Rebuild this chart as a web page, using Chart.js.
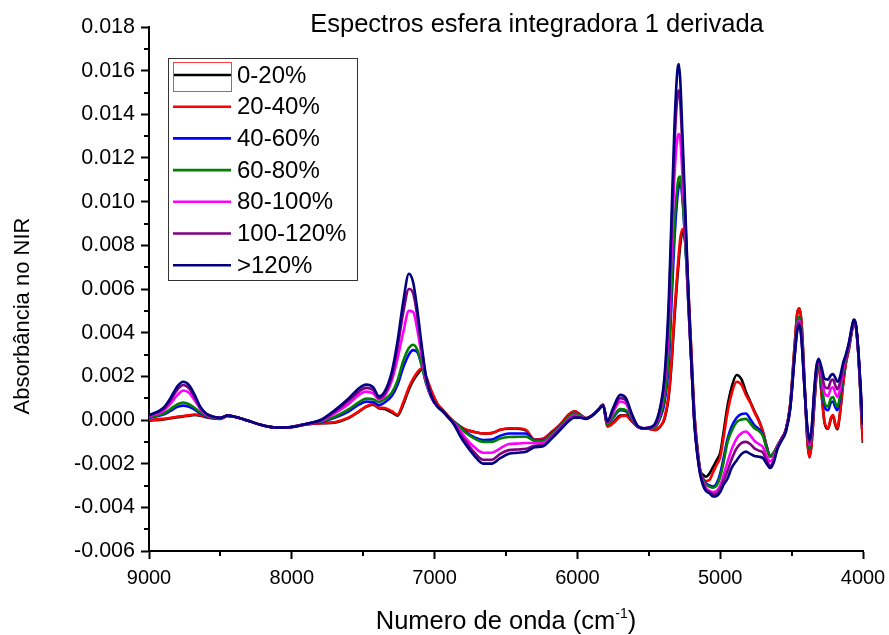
<!DOCTYPE html>
<html>
<head>
<meta charset="utf-8">
<script src="https://cdn.jsdelivr.net/npm/chart.js@4.4.1/dist/chart.umd.min.js"></script>
<style>
  html, body { margin: 0; padding: 0; background: #fff; }
  #wrap { width: 889px; height: 635px; }
</style>
</head>
<body>
<div id="wrap"><canvas id="chart" width="889" height="635"></canvas></div>
<script>
// Wavenumbers (cm-1)
const wavenumbers = [
  9000, 8900, 8850, 8800, 8760, 8720, 8680, 8640, 8600, 8550, 8500, 8450, 8400,
  8300, 8200, 8100, 8000, 7900, 7800, 7700, 7600, 7530, 7480, 7430, 7390, 7350,
  7300, 7260, 7220, 7180, 7150, 7120, 7090, 7060, 7020, 6980, 6940, 6900, 6860,
  6820, 6780, 6720, 6660, 6600, 6540, 6480, 6420, 6360, 6300, 6240, 6180, 6120,
  6060, 6020, 5980, 5940, 5900, 5860, 5820, 5790, 5750, 5700, 5660, 5620, 5580,
  5540, 5500, 5460, 5420, 5390, 5360, 5340, 5320, 5300, 5290, 5280, 5265, 5250,
  5235, 5220, 5200, 5180, 5160, 5140, 5120, 5100, 5075, 5050, 5025, 5000, 4975,
  4950, 4920, 4885, 4850, 4820, 4790, 4760, 4730, 4700, 4675, 4650, 4625, 4600,
  4570, 4540, 4510, 4480, 4460, 4445, 4430, 4410, 4390, 4375, 4360, 4340, 4325,
  4310, 4290, 4270, 4245, 4225, 4210, 4195, 4180, 4160, 4140, 4120, 4100, 4080,
  4065, 4050, 4035, 4020, 4010, 4000
];

const seriesLabels = ['0-20%', '20-40%', '40-60%', '60-80%', '80-100%', '100-120%', '>120%'];
const seriesColors = ['#000000', '#ff0000', '#0000ff', '#008000', '#ff00ff', '#800080', '#000080'];

const s0to20 = [
  -0.02e-3, 0.03e-3, 0.08e-3, 0.13e-3, 0.16e-3, 0.2e-3, 0.23e-3, 0.2e-3, 0.13e-3, 0.07e-3, 0.05e-3, 0.18e-3, 0.15e-3,
  -0.05e-3, -0.25e-3, -0.35e-3, -0.32e-3, -0.2e-3, -0.15e-3, -0.12e-3, 0.1e-3, 0.38e-3, 0.6e-3, 0.7e-3, 0.54e-3, 0.5e-3,
  0.35e-3, 0.2e-3, 0.7e-3, 1.4e-3, 1.8e-3, 2.1e-3, 2.3e-3, 1.95e-3, 1.25e-3, 0.72e-3, 0.43e-3, 0.12e-3, -0.1e-3,
  -0.3e-3, -0.45e-3, -0.55e-3, -0.62e-3, -0.6e-3, -0.45e-3, -0.4e-3, -0.4e-3, -0.48e-3, -0.92e-3, -0.88e-3, -0.55e-3, -0.2e-3,
  0.25e-3, 0.4e-3, 0.25e-3, 0.08e-3, 0.2e-3, 0.42e-3, 0.7e-3, -0.3e-3, -0.12e-3, 0.2e-3, 0.22e-3, -0.05e-3, -0.3e-3,
  -0.38e-3, -0.4e-3, -0.46e-3, -0.3e-3, 0.05e-3, 1.1e-3, 2.6e-3, 4.7e-3, 6.5e-3, 7.3e-3, 8.0e-3, 8.6e-3, 8.4e-3,
  7.3e-3, 5.5e-3, 2.8e-3, 0.2e-3, -1.25e-3, -2.3e-3, -2.5e-3, -2.6e-3, -2.45e-3, -2.15e-3, -1.85e-3, -1.5e-3, -0.5e-3,
  0.6e-3, 1.5e-3, 2.06e-3, 1.85e-3, 1.3e-3, 0.85e-3, 0.4e-3, 0.0, -0.55e-3, -1.2e-3, -1.68e-3, -1.5e-3, -1.2e-3,
  -0.85e-3, -0.45e-3, 0.7e-3, 3.3e-3, 4.9e-3, 5.1e-3, 4.4e-3, 1.8e-3, -0.9e-3, -1.7e-3, -1.1e-3, 0.8e-3, 2.1e-3,
  2.5e-3, 1.2e-3, -0.1e-3, -0.4e-3, 0.05e-3, 0.2e-3, -0.2e-3, -0.42e-3, 0.35e-3, 1.6e-3, 2.6e-3, 3.2e-3, 4.0e-3,
  4.45e-3, 4.3e-3, 3.3e-3, 1.5e-3, 0.0, -1.05e-3
];
const s20to40 = [
  0.0, 0.05e-3, 0.1e-3, 0.15e-3, 0.18e-3, 0.22e-3, 0.25e-3, 0.22e-3, 0.15e-3, 0.08e-3, 0.06e-3, 0.18e-3, 0.15e-3,
  -0.05e-3, -0.25e-3, -0.35e-3, -0.32e-3, -0.2e-3, -0.15e-3, -0.1e-3, 0.12e-3, 0.4e-3, 0.62e-3, 0.72e-3, 0.56e-3, 0.55e-3,
  0.4e-3, 0.25e-3, 0.8e-3, 1.5e-3, 1.9e-3, 2.2e-3, 2.37e-3, 2.0e-3, 1.3e-3, 0.75e-3, 0.45e-3, 0.15e-3, -0.1e-3,
  -0.3e-3, -0.45e-3, -0.55e-3, -0.62e-3, -0.6e-3, -0.45e-3, -0.38e-3, -0.38e-3, -0.45e-3, -0.9e-3, -0.85e-3, -0.55e-3, -0.2e-3,
  0.25e-3, 0.4e-3, 0.25e-3, 0.08e-3, 0.2e-3, 0.42e-3, 0.7e-3, -0.3e-3, -0.15e-3, 0.15e-3, 0.2e-3, -0.05e-3, -0.3e-3,
  -0.38e-3, -0.4e-3, -0.46e-3, -0.3e-3, 0.1e-3, 1.2e-3, 2.8e-3, 5.0e-3, 6.8e-3, 7.6e-3, 8.3e-3, 8.75e-3, 8.5e-3,
  7.4e-3, 5.6e-3, 2.8e-3, 0.2e-3, -1.3e-3, -2.3e-3, -2.7e-3, -2.8e-3, -2.75e-3, -2.4e-3, -2.05e-3, -1.7e-3, -0.75e-3,
  0.3e-3, 1.2e-3, 1.75e-3, 1.6e-3, 1.15e-3, 0.8e-3, 0.35e-3, -0.05e-3, -0.55e-3, -1.2e-3, -1.68e-3, -1.5e-3, -1.2e-3,
  -0.85e-3, -0.45e-3, 0.7e-3, 3.3e-3, 4.9e-3, 5.12e-3, 4.4e-3, 1.8e-3, -0.9e-3, -1.7e-3, -1.1e-3, 0.8e-3, 2.1e-3,
  2.5e-3, 1.2e-3, -0.05e-3, -0.38e-3, 0.1e-3, 0.23e-3, -0.15e-3, -0.38e-3, 0.4e-3, 1.6e-3, 2.6e-3, 3.2e-3, 4.0e-3,
  4.45e-3, 4.3e-3, 3.3e-3, 1.5e-3, 0.0, -1.0e-3
];
const s40to60 = [
  0.1e-3, 0.25e-3, 0.42e-3, 0.6e-3, 0.66e-3, 0.6e-3, 0.47e-3, 0.3e-3, 0.17e-3, 0.1e-3, 0.08e-3, 0.2e-3, 0.15e-3,
  -0.05e-3, -0.25e-3, -0.35e-3, -0.32e-3, -0.18e-3, -0.1e-3, 0.1e-3, 0.4e-3, 0.7e-3, 0.84e-3, 0.82e-3, 0.68e-3, 0.8e-3,
  1.1e-3, 1.6e-3, 2.4e-3, 3.0e-3, 3.2e-3, 3.1e-3, 2.5e-3, 1.7e-3, 1.0e-3, 0.63e-3, 0.4e-3, 0.1e-3, -0.1e-3,
  -0.32e-3, -0.55e-3, -0.8e-3, -0.92e-3, -0.9e-3, -0.72e-3, -0.62e-3, -0.62e-3, -0.62e-3, -0.92e-3, -0.92e-3, -0.62e-3, -0.28e-3,
  0.15e-3, 0.3e-3, 0.2e-3, 0.08e-3, 0.2e-3, 0.42e-3, 0.7e-3, -0.2e-3, 0.1e-3, 0.45e-3, 0.4e-3, 0.05e-3, -0.3e-3,
  -0.38e-3, -0.38e-3, -0.35e-3, 0.1e-3, 0.8e-3, 2.6e-3, 5.5e-3, 8.3e-3, 10.2e-3, 10.7e-3, 10.9e-3, 10.2e-3, 8.7e-3,
  7.0e-3, 4.9e-3, 2.4e-3, -0.1e-3, -1.45e-3, -2.35e-3, -2.7e-3, -2.9e-3, -3.0e-3, -3.05e-3, -2.9e-3, -2.45e-3, -1.7e-3,
  -0.9e-3, -0.3e-3, 0.1e-3, 0.28e-3, 0.3e-3, 0.05e-3, -0.25e-3, -0.4e-3, -0.7e-3, -1.25e-3, -1.65e-3, -1.5e-3, -1.2e-3,
  -0.85e-3, -0.45e-3, 0.6e-3, 3.0e-3, 4.5e-3, 4.7e-3, 4.0e-3, 1.6e-3, -0.6e-3, -1.3e-3, -0.8e-3, 1.15e-3, 2.25e-3,
  2.6e-3, 1.5e-3, 0.65e-3, 0.45e-3, 0.8e-3, 0.85e-3, 0.6e-3, 0.45e-3, 1.0e-3, 2.0e-3, 2.8e-3, 3.35e-3, 4.05e-3,
  4.52e-3, 4.3e-3, 3.25e-3, 1.6e-3, 0.4e-3, -0.35e-3
];
const s60to80 = [
  0.12e-3, 0.3e-3, 0.5e-3, 0.72e-3, 0.8e-3, 0.72e-3, 0.55e-3, 0.35e-3, 0.2e-3, 0.1e-3, 0.08e-3, 0.2e-3, 0.15e-3,
  -0.05e-3, -0.25e-3, -0.35e-3, -0.32e-3, -0.18e-3, -0.08e-3, 0.15e-3, 0.5e-3, 0.82e-3, 0.98e-3, 0.95e-3, 0.83e-3, 0.95e-3,
  1.25e-3, 1.8e-3, 2.7e-3, 3.3e-3, 3.45e-3, 3.2e-3, 2.5e-3, 1.7e-3, 1.0e-3, 0.63e-3, 0.4e-3, 0.1e-3, -0.1e-3,
  -0.35e-3, -0.6e-3, -0.85e-3, -1.0e-3, -1.0e-3, -0.85e-3, -0.78e-3, -0.77e-3, -0.76e-3, -0.95e-3, -0.95e-3, -0.65e-3, -0.3e-3,
  0.15e-3, 0.3e-3, 0.2e-3, 0.08e-3, 0.2e-3, 0.42e-3, 0.7e-3, -0.2e-3, 0.15e-3, 0.5e-3, 0.45e-3, 0.1e-3, -0.3e-3,
  -0.38e-3, -0.38e-3, -0.35e-3, 0.2e-3, 1.0e-3, 3.0e-3, 6.2e-3, 9.0e-3, 10.7e-3, 11.1e-3, 11.15e-3, 10.3e-3, 8.8e-3,
  7.0e-3, 4.9e-3, 2.4e-3, -0.1e-3, -1.45e-3, -2.35e-3, -2.75e-3, -2.95e-3, -3.05e-3, -3.1e-3, -3.0e-3, -2.6e-3, -1.9e-3,
  -1.05e-3, -0.5e-3, -0.1e-3, 0.02e-3, 0.05e-3, -0.15e-3, -0.38e-3, -0.5e-3, -0.75e-3, -1.3e-3, -1.65e-3, -1.5e-3, -1.2e-3,
  -0.85e-3, -0.45e-3, 0.6e-3, 3.0e-3, 4.5e-3, 4.7e-3, 4.0e-3, 1.6e-3, -0.6e-3, -1.3e-3, -0.75e-3, 1.2e-3, 2.3e-3,
  2.6e-3, 1.6e-3, 0.8e-3, 0.62e-3, 1.0e-3, 1.05e-3, 0.8e-3, 0.6e-3, 1.15e-3, 2.1e-3, 2.8e-3, 3.35e-3, 4.05e-3,
  4.52e-3, 4.3e-3, 3.25e-3, 1.6e-3, 0.4e-3, -0.35e-3
];
const s80to100 = [
  0.17e-3, 0.42e-3, 0.75e-3, 1.15e-3, 1.35e-3, 1.25e-3, 0.9e-3, 0.5e-3, 0.25e-3, 0.13e-3, 0.1e-3, 0.2e-3, 0.15e-3,
  -0.05e-3, -0.25e-3, -0.35e-3, -0.32e-3, -0.18e-3, -0.05e-3, 0.3e-3, 0.75e-3, 1.15e-3, 1.3e-3, 1.22e-3, 0.95e-3, 1.1e-3,
  1.8e-3, 2.8e-3, 4.0e-3, 5.0e-3, 4.95e-3, 4.1e-3, 2.9e-3, 1.8e-3, 1.0e-3, 0.62e-3, 0.38e-3, 0.1e-3, -0.15e-3,
  -0.5e-3, -0.85e-3, -1.25e-3, -1.5e-3, -1.5e-3, -1.3e-3, -1.1e-3, -1.08e-3, -1.05e-3, -1.05e-3, -1.05e-3, -0.75e-3, -0.38e-3,
  0.05e-3, 0.2e-3, 0.15e-3, 0.07e-3, 0.2e-3, 0.42e-3, 0.7e-3, -0.12e-3, 0.35e-3, 0.85e-3, 0.75e-3, 0.2e-3, -0.28e-3,
  -0.38e-3, -0.35e-3, -0.28e-3, 0.4e-3, 1.6e-3, 4.3e-3, 7.8e-3, 11.2e-3, 12.9e-3, 13.1e-3, 12.9e-3, 11.3e-3, 9.4e-3,
  7.3e-3, 5.0e-3, 2.4e-3, -0.15e-3, -1.5e-3, -2.4e-3, -2.85e-3, -3.1e-3, -3.25e-3, -3.3e-3, -3.25e-3, -3.0e-3, -2.5e-3,
  -1.95e-3, -1.35e-3, -0.85e-3, -0.6e-3, -0.53e-3, -0.7e-3, -0.95e-3, -1.1e-3, -1.25e-3, -1.65e-3, -1.9e-3, -1.7e-3, -1.25e-3,
  -0.85e-3, -0.45e-3, 0.55e-3, 2.9e-3, 4.3e-3, 4.55e-3, 3.8e-3, 1.55e-3, -0.5e-3, -1.15e-3, -0.6e-3, 1.35e-3, 2.4e-3,
  2.7e-3, 2.0e-3, 1.25e-3, 1.1e-3, 1.45e-3, 1.5e-3, 1.25e-3, 1.05e-3, 1.45e-3, 2.3e-3, 2.9e-3, 3.4e-3, 4.1e-3,
  4.55e-3, 4.3e-3, 3.3e-3, 1.7e-3, 0.5e-3, -0.3e-3
];
const s100to120 = [
  0.2e-3, 0.5e-3, 0.9e-3, 1.4e-3, 1.6e-3, 1.45e-3, 1.05e-3, 0.55e-3, 0.28e-3, 0.15e-3, 0.1e-3, 0.2e-3, 0.15e-3,
  -0.05e-3, -0.25e-3, -0.35e-3, -0.32e-3, -0.18e-3, -0.02e-3, 0.38e-3, 0.9e-3, 1.3e-3, 1.47e-3, 1.37e-3, 1.0e-3, 1.2e-3,
  2.0e-3, 3.3e-3, 4.9e-3, 6.0e-3, 5.8e-3, 4.7e-3, 3.2e-3, 1.95e-3, 1.05e-3, 0.62e-3, 0.38e-3, 0.1e-3, -0.2e-3,
  -0.65e-3, -1.0e-3, -1.5e-3, -1.82e-3, -1.82e-3, -1.55e-3, -1.38e-3, -1.35e-3, -1.32e-3, -1.18e-3, -1.15e-3, -0.8e-3, -0.42e-3,
  0.0, 0.15e-3, 0.12e-3, 0.06e-3, 0.19e-3, 0.42e-3, 0.68e-3, -0.1e-3, 0.45e-3, 1.0e-3, 0.9e-3, 0.25e-3, -0.27e-3,
  -0.38e-3, -0.35e-3, -0.25e-3, 0.5e-3, 1.8e-3, 5.0e-3, 8.8e-3, 12.6e-3, 14.8e-3, 15.1e-3, 14.6e-3, 12.5e-3, 10.1e-3,
  7.7e-3, 5.2e-3, 2.4e-3, -0.2e-3, -1.55e-3, -2.45e-3, -2.9e-3, -3.2e-3, -3.3e-3, -3.4e-3, -3.38e-3, -3.15e-3, -2.75e-3,
  -2.35e-3, -1.8e-3, -1.3e-3, -1.05e-3, -1.0e-3, -1.1e-3, -1.3e-3, -1.4e-3, -1.5e-3, -1.85e-3, -2.1e-3, -1.85e-3, -1.3e-3,
  -0.85e-3, -0.45e-3, 0.52e-3, 2.85e-3, 4.2e-3, 4.45e-3, 3.7e-3, 1.52e-3, -0.4e-3, -1.05e-3, -0.5e-3, 1.4e-3, 2.45e-3,
  2.75e-3, 2.2e-3, 1.55e-3, 1.45e-3, 1.8e-3, 1.85e-3, 1.6e-3, 1.4e-3, 1.75e-3, 2.45e-3, 2.95e-3, 3.45e-3, 4.15e-3,
  4.58e-3, 4.35e-3, 3.35e-3, 1.8e-3, 0.6e-3, -0.25e-3
];
const sOver120 = [
  0.22e-3, 0.55e-3, 1.0e-3, 1.55e-3, 1.75e-3, 1.6e-3, 1.15e-3, 0.6e-3, 0.3e-3, 0.15e-3, 0.1e-3, 0.2e-3, 0.15e-3,
  -0.05e-3, -0.25e-3, -0.35e-3, -0.32e-3, -0.18e-3, 0.0, 0.45e-3, 1.0e-3, 1.45e-3, 1.62e-3, 1.5e-3, 1.08e-3, 1.3e-3,
  2.2e-3, 3.6e-3, 5.4e-3, 6.7e-3, 6.3e-3, 5.0e-3, 3.4e-3, 2.0e-3, 1.05e-3, 0.62e-3, 0.38e-3, 0.1e-3, -0.25e-3,
  -0.75e-3, -1.15e-3, -1.65e-3, -2.0e-3, -2.0e-3, -1.75e-3, -1.55e-3, -1.5e-3, -1.45e-3, -1.25e-3, -1.2e-3, -0.85e-3, -0.45e-3,
  -0.05e-3, 0.1e-3, 0.1e-3, 0.05e-3, 0.18e-3, 0.42e-3, 0.65e-3, -0.05e-3, 0.55e-3, 1.15e-3, 1.0e-3, 0.3e-3, -0.25e-3,
  -0.38e-3, -0.35e-3, -0.2e-3, 0.6e-3, 2.0e-3, 5.5e-3, 9.5e-3, 13.5e-3, 16.0e-3, 16.3e-3, 15.6e-3, 13.2e-3, 10.6e-3,
  8.0e-3, 5.3e-3, 2.4e-3, -0.2e-3, -1.6e-3, -2.5e-3, -3.0e-3, -3.25e-3, -3.35e-3, -3.5e-3, -3.48e-3, -3.3e-3, -2.95e-3,
  -2.7e-3, -2.2e-3, -1.85e-3, -1.55e-3, -1.45e-3, -1.55e-3, -1.65e-3, -1.68e-3, -1.75e-3, -2.0e-3, -2.2e-3, -1.95e-3, -1.35e-3,
  -0.95e-3, -0.55e-3, 0.5e-3, 2.8e-3, 4.1e-3, 4.35e-3, 3.6e-3, 1.5e-3, -0.3e-3, -0.9e-3, -0.4e-3, 1.5e-3, 2.5e-3,
  2.8e-3, 2.4e-3, 1.9e-3, 1.85e-3, 2.05e-3, 2.1e-3, 1.95e-3, 1.75e-3, 2.0e-3, 2.6e-3, 3.0e-3, 3.5e-3, 4.2e-3,
  4.6e-3, 4.4e-3, 3.4e-3, 1.9e-3, 0.7e-3, -0.2e-3
];

const seriesValues = [s0to20, s20to40, s40to60, s60to80, s80to100, s100to120, sOver120];

// Axis ticks
const xTicks = [9000, 8000, 7000, 6000, 5000, 4000];
const xMinorTicks = [8500, 7500, 6500, 5500, 4500];
const yTicks = [-0.006, -0.004, -0.002, 0.000, 0.002, 0.004, 0.006, 0.008, 0.010, 0.012, 0.014, 0.016, 0.018];
const yMinorTicks = [-0.005, -0.003, -0.001, 0.001, 0.003, 0.005, 0.007, 0.009, 0.011, 0.013, 0.015, 0.017];

const chartTitle = 'Espectros esfera integradora 1 derivada';
const yTitle = 'Absorbância no NIR';
const xTitle = 'Numero de onda (cm';
const xTitleSup = '-1';

const FONT = 'Arial, "Liberation Sans", sans-serif';

const datasets = seriesLabels.map((label, i) => ({
    label: label,
    data: wavenumbers.map((w, j) => ({ x: w, y: seriesValues[i][j] })),
    borderColor: seriesColors[i],
    backgroundColor: seriesColors[i],
    borderWidth: 2.6,
    pointRadius: 0,
    cubicInterpolationMode: 'monotone',
    fill: false,
    order: seriesLabels.length - i   // last series drawn on top
}));

// Minor ticks, chart title, axis titles and the boxed legend
const decorPlugin = {
    id: 'decor',
    afterDraw(chart) {
        const ctx = chart.ctx;
        const area = chart.chartArea;
        const xs = chart.scales.x;
        const ys = chart.scales.y;

        ctx.save();
        ctx.strokeStyle = '#000';
        ctx.lineWidth = 2;
        yMinorTicks.forEach(v => {
            const py = Math.round(ys.getPixelForValue(v));
            ctx.beginPath();
            ctx.moveTo(area.left - 5, py);
            ctx.lineTo(area.left, py);
            ctx.stroke();
        });
        xMinorTicks.forEach(v => {
            const px = Math.round(xs.getPixelForValue(v));
            ctx.beginPath();
            ctx.moveTo(px, area.bottom);
            ctx.lineTo(px, area.bottom + 5);
            ctx.stroke();
        });

        ctx.fillStyle = '#000';
        // chart title
        ctx.font = '25.5px ' + FONT;
        ctx.textAlign = 'center';
        ctx.textBaseline = 'middle';
        ctx.fillText(chartTitle, 537, 25);

        // y title
        ctx.save();
        ctx.translate(23, 316);
        ctx.rotate(-Math.PI / 2);
        ctx.font = '22px ' + FONT;
        ctx.fillText(yTitle, 0, 0);
        ctx.restore();

        // x title with superscript
        ctx.textAlign = 'left';
        ctx.textBaseline = 'alphabetic';
        ctx.font = '25.5px ' + FONT;
        const w1 = ctx.measureText(xTitle).width;
        const w3 = ctx.measureText(')').width;
        ctx.font = '14px ' + FONT;
        const w2 = ctx.measureText(xTitleSup).width;
        const start = (area.left + area.right) / 2 - (w1 + w2 + w3) / 2;
        const base = 629;
        ctx.font = '25.5px ' + FONT;
        ctx.fillText(xTitle, start, base);
        ctx.font = '14px ' + FONT;
        ctx.fillText(xTitleSup, start + w1, base - 11);
        ctx.font = '25.5px ' + FONT;
        ctx.fillText(')', start + w1 + w2, base);

        // legend
        const lx = 168, ly = 58, lw = 189, lh = 222;
        ctx.strokeStyle = '#333';
        ctx.lineWidth = 1;
        ctx.fillStyle = '#fff';
        ctx.fillRect(lx, ly, lw, lh);
        ctx.strokeRect(lx + 0.5, ly + 0.5, lw, lh);
        ctx.font = '24px ' + FONT;
        ctx.textBaseline = 'middle';
        ctx.textAlign = 'left';
        seriesLabels.forEach((label, i) => {
            const cy = 75 + i * 31.7;
            ctx.strokeStyle = seriesColors[i];
            ctx.lineWidth = 2.6;
            ctx.beginPath();
            ctx.moveTo(173, cy);
            ctx.lineTo(231, cy);
            ctx.stroke();
            ctx.fillStyle = '#000';
            ctx.fillText(label, 237, cy + 1);
        });
        // selection frame around the first sample
        ctx.strokeStyle = '#ff4040';
        ctx.lineWidth = 1;
        ctx.strokeRect(173.5, 62.5, 58, 29);
        ctx.restore();
    }
};

new Chart(document.getElementById('chart'), {
    type: 'line',
    data: { datasets: datasets },
    options: {
        responsive: false,
        animation: false,
        devicePixelRatio: 1,
        layout: { padding: { top: 27, right: 26, left: 0, bottom: 0 } },
        plugins: {
            legend: { display: false },
            title: { display: false },
            tooltip: { enabled: false }
        },
        scales: {
            x: {
                type: 'linear',
                reverse: true,
                min: 4000,
                max: 9000,
                afterBuildTicks: scale => { scale.ticks = xTicks.map(v => ({ value: v })); },
                afterFit: scale => {
                    scale.height = 84;
                    scale.paddingLeft = 0;
                    scale.paddingRight = 0;
                },
                border: { color: '#000', width: 2 },
                grid: { drawOnChartArea: false, tickLength: 8, tickColor: '#000', tickWidth: 2 },
                ticks: {
                    color: '#000',
                    padding: 7,
                    maxRotation: 0,
                    font: { family: FONT, size: 20 },
                    callback: v => String(v)
                }
            },
            y: {
                type: 'linear',
                min: -0.006,
                max: 0.018,
                afterBuildTicks: scale => { scale.ticks = yTicks.map(v => ({ value: v })); },
                afterFit: scale => {
                    scale.width = 149;
                    scale.paddingTop = 0;
                    scale.paddingBottom = 0;
                },
                border: { color: '#000', width: 2 },
                grid: { drawOnChartArea: false, tickLength: 8, tickColor: '#000', tickWidth: 2 },
                ticks: {
                    color: '#000',
                    padding: 6,
                    font: { family: FONT, size: 21.5 },
                    callback: v => v.toFixed(3)
                }
            }
        }
    },
    plugins: [decorPlugin]
});
</script>
</body>
</html>
